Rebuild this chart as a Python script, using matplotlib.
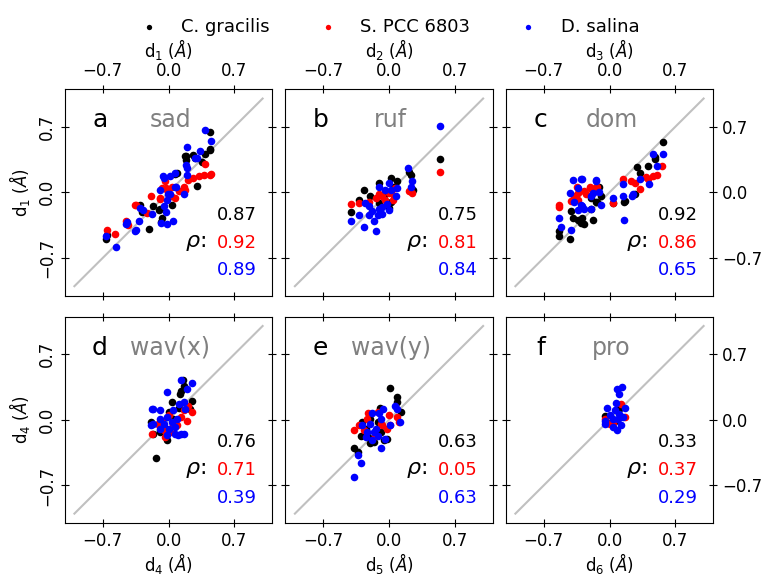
import matplotlib
matplotlib.use("Agg")
import matplotlib.pyplot as plt

# species and colours
species = ["C. gracilis", "S. PCC 6803", "D. salina"]
colors = ["black", "red", "blue"]

panel_letters = ["a", "b", "c", "d", "e", "f"]
panel_names = ["sad", "ruf", "dom", "wav(x)", "wav(y)", "pro"]
rho_values = [
    ["0.87", "0.92", "0.89"],
    ["0.75", "0.81", "0.84"],
    ["0.92", "0.86", "0.65"],
    ["0.76", "0.71", "0.39"],
    ["0.63", "0.05", "0.63"],
    ["0.33", "0.37", "0.29"],
]
ticks = [-0.7, 0.0, 0.7]
tick_labels = ["\u22120.7", "0.0", "0.7"]

# (x, y) pairs, in Angstrom
sad_cg = [(0.44, 0.64), (0.44, 0.46), (0.39, 0.41), (0.19, 0.39), (0.19, 0.35), (0.28, 0.37),
          (0.09, 0.21), (0.30, 0.07), (-0.16, -0.15), (-0.30, -0.13), (-0.28, -0.21), (-0.21, -0.39),
          (-0.65, -0.45), (0.04, -0.13), (-0.07, -0.27), (-0.10, -0.19), (0.07, 0.20), (-0.09, -0.18),
          (-0.08, -0.32), (0.36, 0.32), (0.26, 0.40), (0.18, 0.39), (0.44, 0.45), (-0.66, -0.50)]
sad_syn = [(0.45, 0.20), (0.38, 0.18), (0.32, 0.17), (0.26, 0.15), (0.39, 0.30), (-0.04, 0.12),
           (0.04, 0.06), (-0.07, 0.05), (-0.02, 0.03), (-0.09, -0.07), (-0.19, -0.04), (0.03, -0.04),
           (-0.35, -0.14), (-0.23, -0.22), (-0.45, -0.31), (-0.65, -0.40), (-0.57, -0.44), (0.16, 0.06),
           (0.11, 0.01), (0.21, 0.13), (0.18, 0.03), (-0.36, -0.14), (-0.43, -0.35), (-0.03, 0.05),
           (0.07, -0.06), (0.44, 0.19), (-0.09, -0.06)]
sad_ds = [(0.39, 0.66), (0.45, 0.55), (0.33, 0.44), (0.28, 0.37), (0.20, 0.48), (0.19, 0.29),
          (0.20, 0.19), (0.16, -0.02), (-0.06, 0.17), (0.02, 0.17), (0.08, 0.06), (0.02, -0.02),
          (-0.02, -0.08), (-0.05, -0.15), (-0.03, -0.21), (-0.18, -0.23), (-0.27, -0.19), (-0.08, -0.33),
          (-0.02, -0.34), (0.05, -0.31), (-0.31, -0.31), (-0.45, -0.34), (-0.36, -0.41), (-0.56, -0.58),
          (-0.66, -0.47), (0.20, 0.26), (0.07, 0.21), (-0.01, -0.02), (-0.09, 0.03), (-0.30, -0.17),
          (-0.35, -0.40), (-0.44, -0.32), (0.30, 0.37), (-0.05, 0.15), (0.07, 0.06)]

ruf_cg = [(0.54, 0.36), (0.23, 0.19), (0.21, 0.22), (0.25, 0.03), (0.09, 0.12), (0.02, 0.15),
          (-0.11, 0.10), (-0.27, 0.03), (-0.20, -0.04), (-0.40, -0.21), (-0.32, -0.08), (-0.04, -0.02),
          (0.05, 0.06), (-0.11, -0.11), (0.00, -0.17), (0.02, -0.10)]
ruf_syn = [(0.54, 0.22), (0.21, 0.01), (0.24, -0.01), (0.06, 0.05), (0.00, -0.01), (-0.07, -0.04),
           (-0.14, -0.06), (-0.21, -0.10), (-0.32, -0.11), (-0.40, -0.12), (-0.04, -0.08), (0.04, -0.08),
           (-0.11, -0.02), (0.02, 0.01), (0.05, -0.04)]
ruf_ds = [(0.54, 0.71), (0.20, 0.26), (0.24, 0.12), (0.23, 0.06), (0.09, 0.05), (0.07, -0.04),
          (0.00, 0.10), (0.02, 0.03), (-0.04, 0.02), (-0.11, 0.06), (-0.02, -0.12), (0.00, -0.19),
          (-0.07, -0.16), (-0.12, -0.24), (-0.18, -0.20), (-0.21, -0.15), (-0.25, -0.11), (-0.32, -0.24),
          (-0.40, -0.30), (-0.27, -0.37), (-0.14, -0.41), (-0.16, -0.30), (-0.07, -0.23), (-0.11, -0.18),
          (-0.21, -0.24)]

dom_cg = [(0.57, 0.54), (0.48, 0.38), (0.41, 0.28), (0.29, 0.27), (0.32, 0.21), (0.15, -0.10),
          (0.04, -0.11), (-0.11, 0.06), (-0.09, -0.04), (-0.14, -0.10), (-0.20, -0.06), (-0.20, -0.18),
          (-0.18, -0.29), (-0.29, -0.27), (-0.34, -0.29), (-0.39, -0.27), (-0.41, -0.20), (-0.30, -0.33),
          (-0.27, -0.34), (-0.54, -0.41), (-0.54, -0.47), (-0.42, -0.50), (0.48, 0.36), (-0.13, -0.10),
          (0.16, -0.09), (0.27, -0.02)]
dom_syn = [(0.56, 0.28), (0.46, 0.17), (0.41, 0.14), (0.32, 0.04), (0.27, 0.10), (0.23, 0.12),
           (0.14, 0.14), (0.04, -0.11), (-0.13, 0.01), (-0.21, 0.05), (-0.14, 0.06), (-0.27, 0.01),
           (-0.34, -0.01), (-0.41, -0.09), (-0.34, -0.08), (-0.54, -0.13), (-0.54, -0.16), (-0.35, 0.06),
           (-0.21, 0.06), (-0.13, 0.06), (-0.38, -0.04), (-0.25, -0.02), (0.39, 0.16), (0.50, 0.18)]
dom_ds = [(0.57, 0.41), (0.46, 0.41), (0.50, 0.28), (0.42, 0.09), (0.32, 0.14), (0.25, -0.02),
          (0.14, 0.09), (0.14, -0.04), (0.04, -0.06), (0.15, -0.29), (-0.14, 0.12), (-0.11, 0.00),
          (-0.18, -0.01), (-0.20, -0.18), (-0.30, 0.14), (-0.39, 0.13), (-0.34, 0.05), (-0.42, -0.01),
          (-0.38, -0.10), (-0.30, -0.13), (-0.27, -0.18), (-0.34, -0.19), (-0.54, -0.27), (-0.52, -0.37),
          (-0.41, -0.40), (-0.29, 0.14), (-0.14, 0.13), (0.24, -0.04), (-0.09, -0.14), (-0.20, -0.04),
          (-0.29, -0.15)]

wavx_cg = [(0.15, 0.42), (0.16, 0.36), (0.13, 0.31), (0.12, 0.28), (0.04, 0.19), (0.25, 0.20),
           (0.23, 0.12), (0.00, 0.08), (-0.19, -0.02), (-0.16, -0.15), (-0.02, -0.22), (-0.13, -0.41),
           (-0.05, -0.08), (0.05, 0.01), (0.11, 0.13), (-0.09, -0.13)]
wavx_syn = [(0.25, 0.08), (0.20, -0.01), (0.13, 0.03), (0.21, 0.15), (0.05, -0.06), (0.02, -0.13),
            (-0.05, -0.11), (-0.11, -0.04), (-0.18, -0.15), (-0.07, -0.01), (0.00, 0.05), (0.09, -0.06),
            (0.16, 0.10), (-0.04, -0.18)]
wavx_ds = [(0.13, 0.42), (0.25, 0.39), (-0.02, 0.30), (0.20, 0.33), (0.16, 0.19), (0.11, 0.17),
           (0.18, 0.12), (-0.16, 0.12), (-0.09, 0.10), (0.05, 0.10), (-0.02, 0.03), (0.04, -0.02),
           (0.09, 0.01), (-0.09, 0.01), (-0.16, -0.04), (-0.05, -0.04), (0.00, -0.10), (0.07, -0.08),
           (0.13, -0.15), (0.07, -0.15), (0.16, -0.15), (-0.09, -0.10), (-0.18, 0.12), (-0.19, -0.06),
           (0.10, -0.16), (-0.02, -0.16)]

wavy_cg = [(0.01, 0.34), (0.08, 0.24), (0.08, 0.19), (0.13, 0.08), (-0.10, 0.13), (-0.29, -0.02),
           (-0.30, -0.17), (-0.37, -0.30), (-0.33, -0.34), (-0.20, -0.25), (-0.16, -0.24), (-0.05, -0.22),
           (-0.02, -0.20), (-0.24, -0.10), (-0.12, -0.02), (-0.09, -0.13), (-0.20, 0.01), (-0.22, -0.18)]
wavy_syn = [(-0.37, -0.11), (-0.32, -0.05), (-0.22, 0.07), (-0.23, 0.01), (-0.12, 0.08), (0.00, 0.05),
            (0.09, 0.03), (0.11, -0.02), (-0.07, -0.06), (-0.02, -0.10), (0.01, -0.06), (-0.27, -0.11),
            (-0.15, -0.17), (-0.09, -0.04)]
wavy_ds = [(0.08, 0.12), (0.06, 0.15), (0.12, -0.02), (-0.06, 0.12), (-0.18, 0.07), (-0.11, 0.07),
           (-0.29, -0.06), (-0.20, -0.04), (-0.14, -0.10), (-0.12, -0.17), (-0.18, -0.22), (-0.24, -0.18),
           (-0.04, -0.20), (-0.09, -0.30), (0.01, -0.06), (-0.33, -0.38), (-0.30, -0.46), (-0.37, -0.61),
           (-0.16, -0.13), (-0.23, -0.13), (-0.09, 0.01)]

pro_cg = [(-0.05, 0.04), (-0.03, -0.03), (0.06, -0.01), (0.10, 0.11)]
pro_syn = [(0.12, 0.17), (0.16, 0.03), (0.04, -0.03), (-0.05, 0.01), (0.00, -0.04)]
pro_ds = [(0.08, 0.33), (0.13, 0.35), (0.10, 0.27), (0.07, 0.18), (-0.03, 0.13), (0.16, 0.13),
          (0.06, 0.10), (0.10, 0.06), (-0.05, -0.01), (0.04, 0.01), (-0.05, -0.04), (0.04, -0.08),
          (0.08, -0.11), (0.12, -0.06), (0.14, 0.03), (0.09, 0.01), (0.00, 0.05)]

panel_data = [
    [sad_cg, sad_syn, sad_ds],
    [ruf_cg, ruf_syn, ruf_ds],
    [dom_cg, dom_syn, dom_ds],
    [wavx_cg, wavx_syn, wavx_ds],
    [wavy_cg, wavy_syn, wavy_ds],
    [pro_cg, pro_syn, pro_ds],
]

plt.rcParams["font.family"] = "DejaVu Sans"
fig, axes = plt.subplots(2, 3, figsize=(7.7, 5.79), dpi=100)
fig.subplots_adjust(left=0.0844, right=0.926, top=0.846, bottom=0.0967,
                    wspace=0.065, hspace=0.102)

for i, ax in enumerate(axes.flat):
    row, col = divmod(i, 3)
    ax.plot([-1, 1], [-1, 1], color="#c0c0c0", lw=1.5, zorder=1)
    for pts, c, name in zip(panel_data[i], colors, species):
        xs = [p[0] for p in pts]
        ys = [p[1] for p in pts]
        ax.scatter(xs, ys, s=30, color=c, label=name, zorder=2, linewidths=0)

    ax.set_xlim(-1.1, 1.1)
    ax.set_ylim(-1.1, 1.1)
    ax.set_xticks(ticks)
    ax.set_yticks(ticks)
    ax.tick_params(direction="inout", length=6, top=True, bottom=True, left=True, right=True,
                   labelsize=12, labeltop=(row == 0), labelbottom=(row == 1),
                   labelleft=(col == 0), labelright=(col == 2))
    ax.set_xticklabels(tick_labels)
    ax.set_yticklabels(tick_labels)
    if col == 0:
        for lab in ax.get_yticklabels():
            lab.set_rotation(90)
            lab.set_va("center")

    num = i + 1
    if row == 0:
        ax.xaxis.set_label_position("top")
        ax.set_xlabel(r"d$_%d$ ($\mathit{\AA}$)" % num, fontsize=12, labelpad=4)
    else:
        ax.set_xlabel(r"d$_%d$ ($\mathit{\AA}$)" % num, fontsize=12, labelpad=1)
    if col == 0:
        ax.set_ylabel(r"d$_%d$ ($\mathit{\AA}$)" % (1 if row == 0 else 4), fontsize=12)

    ax.text(-0.73, 0.77, panel_letters[i], fontsize=18, ha="center", va="center")
    ax.text(0.02, 0.77, panel_names[i], fontsize=17, color="gray", ha="center", va="center")
    for v, c, yy in zip(rho_values[i], colors, [-0.24, -0.54, -0.83]):
        ax.text(0.73, yy, v, fontsize=13, color=c, ha="center", va="center")
    ax.text(0.29, -0.54, r"$\rho$:", fontsize=16, ha="center", va="center")

handles, labels = axes[0, 0].get_legend_handles_labels()
fig.legend(handles, labels, loc="center", bbox_to_anchor=(0.5, 0.953), ncol=3,
           frameon=False, fontsize=13, markerscale=0.7, columnspacing=2.2)

fig.savefig("out.png", dpi=100)
